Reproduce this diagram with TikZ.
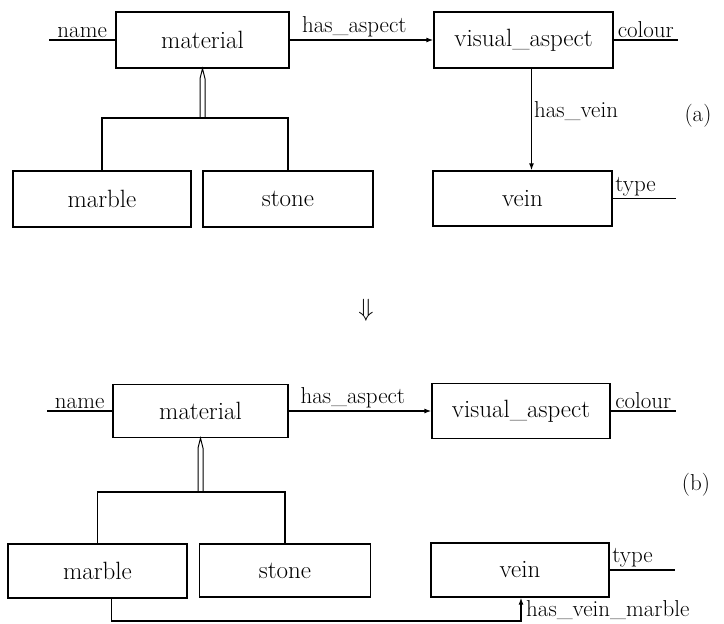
\documentclass[tikz,border=0pt]{standalone}
\usetikzlibrary{calc,arrows.meta}
\begin{document}
\begin{tikzpicture}[x=1pt,y=-1pt,
  ent/.style={draw, line width=1.3pt, inner sep=0pt, font=\fontsize{25}{30}\selectfont},
  lbl/.style={font=\fontsize{23}{28}\selectfont, inner sep=2pt},
  ln/.style={line width=1.3pt},
  dbl/.style={line width=1pt, line join=miter},
  arr/.style={line width=1.3pt, -{Latex[length=7pt,width=5pt]}}]
\useasboundingbox (0,0) rectangle (724,624);

% ---------- (a) ----------
\node[ent, minimum width=173pt, minimum height=56pt] (matA) at (202.5,40) {material};
\node[ent, minimum width=179pt, minimum height=56pt] (visA) at (523.5,40) {visual\_aspect};
\node[ent, minimum width=178pt, minimum height=56pt] (marA) at (102,199) {marble};
\node[ent, minimum width=170pt, minimum height=56pt] (stoA) at (288,199) {stone};
\node[ent, minimum width=179pt, minimum height=55pt] (veinA) at (522.5,198.5) {vein};

\coordinate (nameA) at (49,40);
\coordinate (colA) at (678,40);
\coordinate (typeA) at (676,198.5);
\coordinate (brA) at (202.5,118);

\draw[ln] (nameA) -- (matA.west) node[lbl, midway, above] {name};
\draw[ln] (visA.east) -- (colA) node[lbl, midway, above] {colour};
\draw[ln] (veinA.east) -- (typeA) node[lbl, pos=0, anchor=south west] {type};
\draw[arr] (matA.east) -- (visA.west) node[lbl, pos=0.45, above] {has\_aspect};
\draw[arr] ([xshift=8pt]visA.south) -- ([xshift=9pt]veinA.north) node[lbl, pos=0.42, right] {has\_vein};

\draw[ln] (marA.north) -- (marA.north |- brA) -- (stoA.north |- brA) -- (stoA.north);
\draw[dbl] ($(brA)+(-2.5,0)$) -- ($(matA.south)+(-2.5,10)$) -- (matA.south) -- ($(matA.south)+(2.5,10)$) -- ($(brA)+(2.5,0)$);

\node[lbl] (la) at (698,116) {(a)};

% ---------- transformation ----------
\node[font=\fontsize{36}{40}\selectfont, inner sep=0pt] (impl) at (366,310) {$\Downarrow$};

% ---------- (b) ----------
\node[ent, minimum width=175pt, minimum height=53pt] (matB) at (200.5,411) {material};
\node[ent, minimum width=178pt, minimum height=55pt] (visB) at (521,411) {visual\_aspect};
\node[ent, minimum width=179pt, minimum height=54pt] (marB) at (97.5,571) {marble};
\node[ent, minimum width=171pt, minimum height=53pt] (stoB) at (285,570.5) {stone};
\node[ent, minimum width=178pt, minimum height=54pt] (veinB) at (520,570) {vein};

\coordinate (nameB) at (47,411);
\coordinate (colB) at (676,411);
\coordinate (typeB) at (675,570);
\coordinate (brB) at (200.5,492);
\coordinate (hvmY) at (0,621);

\draw[ln] (nameB) -- (matB.west) node[lbl, midway, above] {name};
\draw[ln] (visB.east) -- (colB) node[lbl, midway, above] {colour};
\draw[ln] (veinB.east) -- (typeB) node[lbl, pos=0, anchor=south west] {type};
\draw[arr] (matB.east) -- (visB.west) node[lbl, pos=0.45, above] {has\_aspect};

\draw[ln] (marB.north) -- (marB.north |- brB) -- (stoB.north |- brB) -- (stoB.north);
\draw[dbl] ($(brB)+(-2.5,0)$) -- ($(matB.south)+(-2.5,10)$) -- (matB.south) -- ($(matB.south)+(2.5,10)$) -- ($(brB)+(2.5,0)$);

\draw[arr] ([xshift=14pt]marB.south) -- ([xshift=14pt]marB.south |- hvmY) -- ([xshift=1pt]veinB.south |- hvmY) -- ([xshift=1pt]veinB.south);
\node[lbl, anchor=west] (hvmL) at ($(veinB.south)+(4,12)$) {has\_vein\_marble};

\node[lbl] (lb) at (696,485) {(b)};
\end{tikzpicture}
\end{document}
